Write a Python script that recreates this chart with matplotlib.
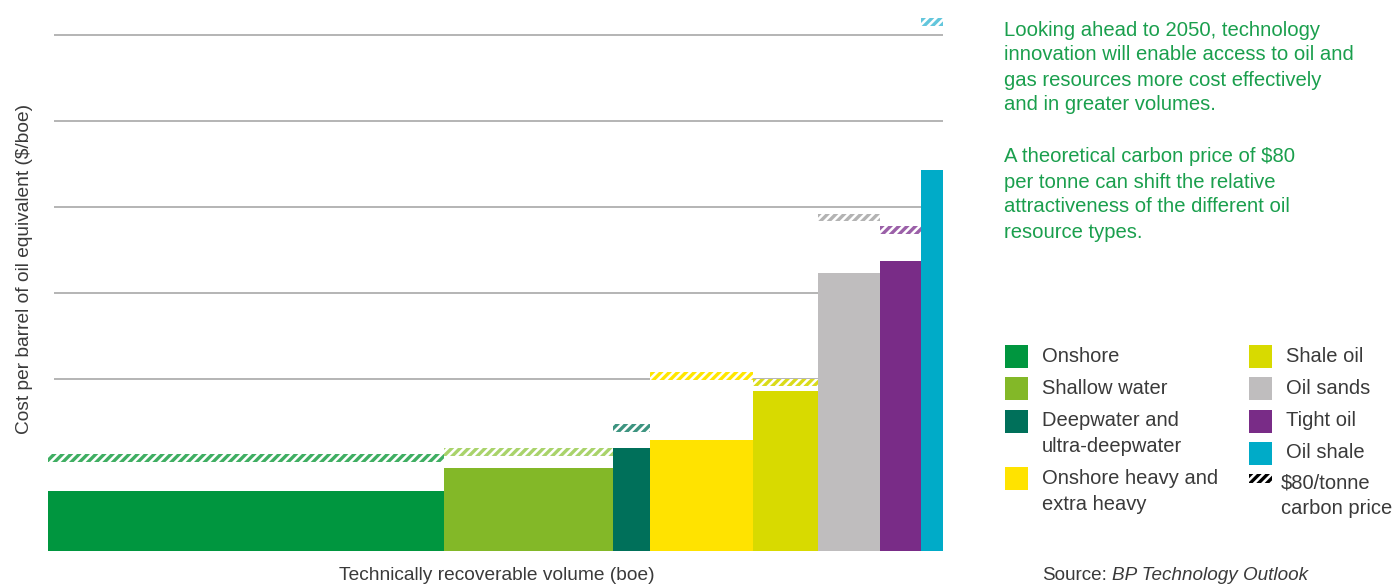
import matplotlib.pyplot as plt
from matplotlib.patches import Rectangle
import numpy as np

plt.rcParams['font.family'] = ['Liberation Sans', 'DejaVu Sans']
plt.rcParams['hatch.linewidth'] = 2.4

# resource types, cheapest first
resources = ['Onshore', 'Shallow water', 'Deepwater and\nultra-deepwater',
             'Onshore heavy and\nextra heavy', 'Shale oil', 'Oil sands',
             'Tight oil', 'Oil shale']
# technically recoverable volume (relative units -> bar widths)
volume = [3.96, 1.69, 0.37, 1.03, 0.65, 0.62, 0.41, 0.22]
# cost per barrel ($/boe)
cost = [14.0, 19.2, 23.8, 25.8, 37.2, 64.6, 67.4, 88.6]
# cost with a $80/tonne carbon price ($/boe)
cost_carbon = [22.4, 23.8, 29.4, 41.6, 40.0, 78.4, 75.4, 123.8]
grid_levels = [40, 60, 80, 100, 120]

colors = ['#00963f', '#83b828', '#00705a', '#ffe300',
          '#d8da00', '#bfbdbe', '#792c87', '#00abc8']
hatch_colors = ['#3fae62', '#a9d36b', '#3d9480', '#ffe600',
                '#dadb1a', '#b3b3b3', '#9b60a8', '#63c6dc']

W, H = 1396, 584
fig = plt.figure(figsize=(W / 100, H / 100), dpi=100)

# main chart
x0, x1, ybase = 48, 943, 550.7
ax = fig.add_axes([x0 / W, (H - ybase) / H, (x1 - x0) / W, ybase / H])
lefts = np.concatenate([[0], np.cumsum(volume)[:-1]])
ax.bar(lefts, cost, width=volume, align='edge', color=colors, linewidth=0, zorder=2)

band = 1.8
for l, w, c, hc in zip(lefts, volume, cost_carbon, hatch_colors):
    ax.bar(l, band, bottom=c - band, width=w, align='edge', facecolor='white',
           edgecolor=hc, hatch='////', linewidth=0, zorder=3)

total = sum(volume)
ax.hlines(grid_levels, 0.06, total, color='#a0a0a0', lw=1.1, zorder=1)
ax.set_xlim(0, total)
ax.set_ylim(0, ybase / 86 * 20)
ax.axis('off')

txt = '#3a3a3a'
fig.text(25 / W, 1 - 269 / H, 'Cost per barrel of oil equivalent ($/boe)', rotation=90,
         ha='center', va='center', fontsize=13.8, color=txt)
fig.text(497 / W, 1 - 575 / H, 'Technically recoverable volume (boe)',
         ha='center', va='center', fontsize=13.8, color=txt)

# overlay in pixel coordinates for the side panel
lay = fig.add_axes([0, 0, 1, 1])
lay.set_xlim(0, W)
lay.set_ylim(H, 0)
lay.axis('off')

green = '#1a9f4d'
para1 = ['Looking ahead to 2050, technology', 'innovation will enable access to oil and',
         'gas resources more cost effectively', 'and in greater volumes.']
para2 = ['A theoretical carbon price of $80', 'per tonne can shift the relative',
         'attractiveness of the different oil', 'resource types.']
for i, line in enumerate(para1):
    lay.text(1004, 30 + 25 * i, line, ha='left', va='center', fontsize=14.6, color=green)
for i, line in enumerate(para2):
    lay.text(1004, 157 + 25 * i, line, ha='left', va='center', fontsize=14.6, color=green)

# legend
rows = [(1005, 356), (1005, 388), (1005, 421), (1005, 478),
        (1249, 356), (1249, 388), (1249, 421), (1249, 453)]
for (px, py), name, c in zip(rows, resources, colors):
    lay.add_patch(Rectangle((px, py - 11.5), 23, 23, color=c, lw=0))
    for j, part in enumerate(name.split('\n')):
        lay.text(px + 37, py + 26 * j, part, ha='left', va='center',
                 fontsize=14.5, color=txt)
lay.add_patch(Rectangle((1249, 474), 23, 9, facecolor='white', edgecolor='black',
                        hatch='////', lw=0))
lay.text(1281, 483, '$80/tonne', ha='left', va='center', fontsize=14.5, color=txt)
lay.text(1281, 509, 'carbon price', ha='left', va='center', fontsize=14.5, color=txt)

lay.text(1042, 575, 'Source:', ha='left', va='center', fontsize=13.6, color=txt)
lay.text(1112, 575, 'BP Technology Outlook', ha='left', va='center', fontsize=13.6,
         color=txt, style='italic')

fig.savefig('out.png', dpi=100)
